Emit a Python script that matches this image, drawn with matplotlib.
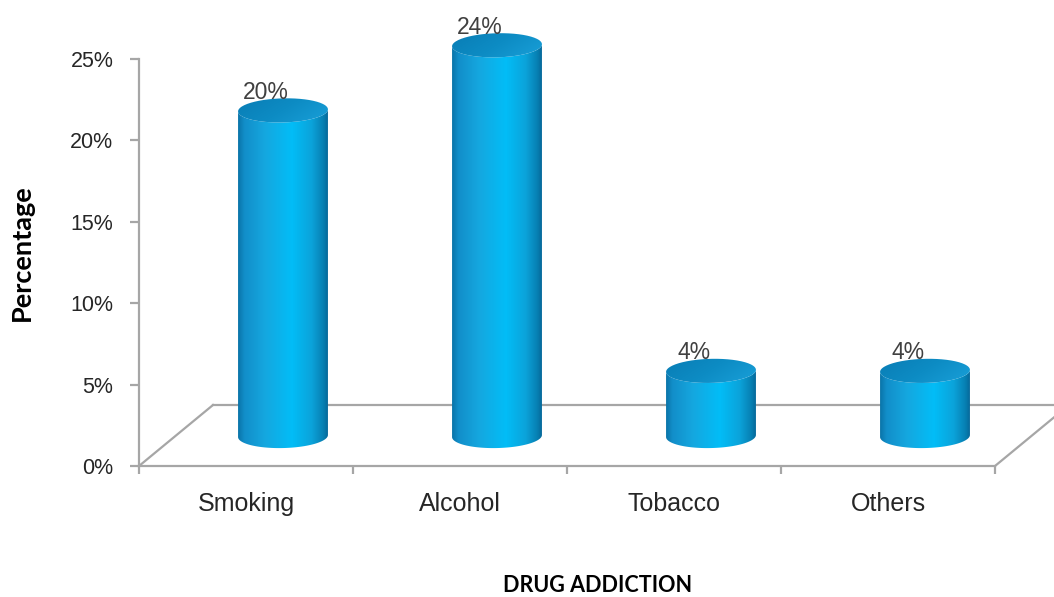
import numpy as np
import matplotlib
matplotlib.use("Agg")
import matplotlib.pyplot as plt
import matplotlib.transforms as mtransforms
from matplotlib.path import Path
from matplotlib.colors import LinearSegmentedColormap

# Data
categories = ["Smoking", "Alcohol", "Tobacco", "Others"]
values = [20, 24, 4, 4]
value_labels = ["20%", "24%", "4%", "4%"]
y_ticks = [0, 5, 10, 15, 20, 25]
y_tick_labels = ["0%", "5%", "10%", "15%", "20%", "25%"]

# Styling
GRID = "#a6a6a6"
TEXT = "#262626"
LABEL = "#404040"
DPI = 100

fig = plt.figure(figsize=(10.54, 5.97), dpi=DPI)
ax = fig.add_axes([139 / 1054, 131 / 597, 856 / 1054, 407 / 597])
ax.set_xlim(-0.5, len(categories) - 0.5)
ax.set_ylim(0, 25)
ax.patch.set_alpha(0)

# Oblique depth offsets (inches): full floor depth and mid-depth for the cylinders
def shifted(dx, dy):
    return ax.transData + mtransforms.ScaledTranslation(dx, dy, fig.dpi_scale_trans)

floor_tr = shifted(0.74, 0.61)
mid_tr = shifted(0.37, 0.30)

# Axes frame
for s in ["top", "right"]:
    ax.spines[s].set_visible(False)
for s in ["left", "bottom"]:
    ax.spines[s].set_color(GRID)
    ax.spines[s].set_linewidth(1.6)

ax.set_yticks(y_ticks)
ax.set_yticklabels(y_tick_labels, fontsize=15.5, color=TEXT, family="Liberation Sans")
ax.tick_params(axis="y", direction="out", length=6.5, width=1.6, color=GRID, pad=12)

x_edges = np.arange(len(categories) + 1) - 0.5
ax.set_xticks(x_edges)
ax.set_xticklabels([""] * len(x_edges))
ax.tick_params(axis="x", which="major", direction="out", length=6, width=1.6, color=GRID)
ax.set_xticks(np.arange(len(categories)), minor=True)
ax.set_xticklabels(categories, minor=True, fontsize=18, color=TEXT, family="Liberation Sans")
ax.tick_params(axis="x", which="minor", length=0, pad=18.5)

# Floor outline: back edge
x0, x1 = x_edges[0], x_edges[-1]
ax.plot([x0, x1 + 0.1], [0, 0], color=GRID, lw=1.6, transform=floor_tr, clip_on=False, zorder=1)


def floor_side(xe):
    p0 = ax.transData.transform((xe, 0))
    p1 = floor_tr.transform((xe, 0))
    inv = fig.transFigure.inverted()
    a, b = inv.transform(p0), inv.transform(p1)
    fig.add_artist(plt.Line2D([a[0], b[0]], [a[1], b[1]], color=GRID, lw=1.6, zorder=1))


# Cylinder shading
body_cmap = LinearSegmentedColormap.from_list(
    "body",
    [(0.0, "#0a74a8"), (0.07, "#128ec9"), (0.3, "#15a7df"),
     (0.6, "#02bdf7"), (0.82, "#0ba3da"), (0.95, "#0780b3"), (1.0, "#06699a")],
)
top_cmap = LinearSegmentedColormap.from_list(
    "top", [(0.0, "#097cb4"), (0.5, "#0d8cc4"), (1.0, "#1aa1da")]
)

RX = 0.21       # cylinder radius in category units
RY = 0.74       # ellipse half-height in value units
SHEAR = 0.3     # slight tilt of the ellipses


def ellipse_xy(xc, yc, t):
    x = xc + RX * np.cos(t)
    y = yc + RY * np.sin(t) + SHEAR * RX * np.cos(t)
    return x, y


def draw_cylinder(xc, v):
    # side wall: front half of base ellipse, then front half of top ellipse back to start
    tb = np.linspace(np.pi, 2 * np.pi, 80)
    bx, by = ellipse_xy(xc, 0, tb)
    tt = np.linspace(2 * np.pi, np.pi, 80)
    tx, ty = ellipse_xy(xc, v, tt)
    verts = np.vstack([np.column_stack([bx, by]), np.column_stack([tx, ty]), [[bx[0], by[0]]]])
    codes = [Path.MOVETO] + [Path.LINETO] * (len(verts) - 2) + [Path.CLOSEPOLY]
    side = Path(verts, codes)
    grad = np.linspace(0, 1, 256)[None, :]
    im = ax.imshow(grad, cmap=body_cmap, extent=(xc - RX, xc + RX, -RY - RX, v + RY + RX),
                   aspect="auto", interpolation="bilinear", transform=mid_tr, zorder=3,
                   origin="lower")
    im.set_clip_box(fig.bbox)
    im.set_clip_path(side, mid_tr)

    # top cap
    t = np.linspace(0, 2 * np.pi, 160)
    ex, ey = ellipse_xy(xc, v, t)
    cap = Path(np.column_stack([ex, ey]), closed=False)
    gx, gy = np.meshgrid(np.linspace(0, 1, 64), np.linspace(0, 1, 64))
    cap_grad = 0.65 * gx + 0.35 * (1 - gy)
    im2 = ax.imshow(cap_grad, cmap=top_cmap, vmin=0, vmax=1,
                    extent=(xc - RX, xc + RX, v - RY - RX, v + RY + RX),
                    aspect="auto", interpolation="bilinear", transform=mid_tr, zorder=4,
                    origin="lower")
    im2.set_clip_box(fig.bbox)
    im2.set_clip_path(cap, mid_tr)


for i, v in enumerate(values):
    draw_cylinder(i, v)

ax.set_xlim(-0.5, len(categories) - 0.5)
ax.set_ylim(0, 25)

# Value labels above each cylinder
label_tr = shifted(0.20, 0.48)
for i, (v, lab) in enumerate(zip(values, value_labels)):
    ax.text(i, v, lab, transform=label_tr, ha="center", va="center", fontsize=16.5,
            color=LABEL, family="Liberation Sans", zorder=5, clip_on=False)

# Axis titles
fig.text(22 / 1054, 1 - 253 / 597, "Percentage", rotation=90, ha="center", va="center",
         fontsize=19.5, fontweight="bold", family="Lato", color="#000000")
fig.text(598 / 1054, 1 - 585 / 597, "DRUG ADDICTION", ha="center", va="center",
         fontsize=15.5, fontweight="bold", family="Lato", color="#000000")

fig.canvas.draw()
for xe in (x0, x1):
    floor_side(xe)

fig.savefig("out.png", dpi=DPI, facecolor="white")
